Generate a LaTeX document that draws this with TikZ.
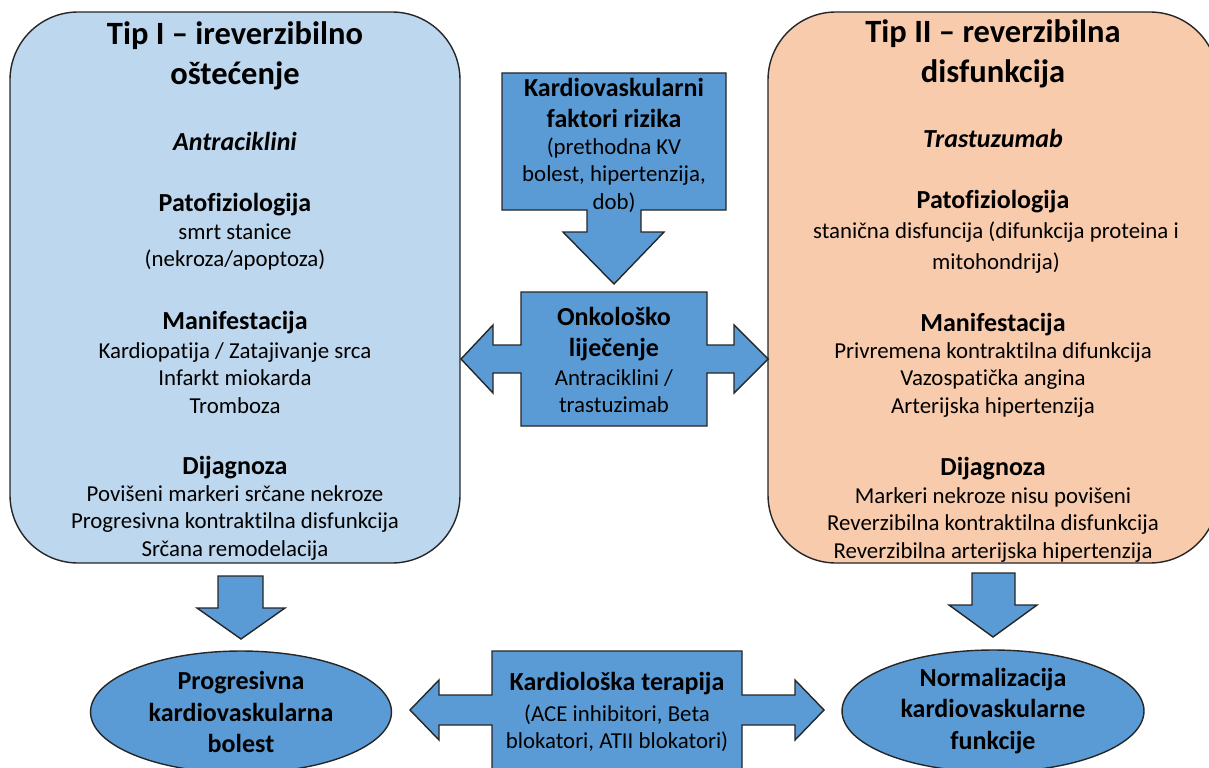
\documentclass[tikz,border=0pt]{standalone}
\usepackage{fontspec}
\setmainfont{Carlito}[Ligatures=CommonOff]
\usetikzlibrary{shapes.geometric}

\definecolor{plava}{HTML}{BDD7EE}
\definecolor{breskva}{HTML}{F8CBAD}
\definecolor{strel}{HTML}{5B9BD5}

\begin{document}
\begin{tikzpicture}[x=0.02cm,y=-0.02cm,line width=0.8pt,
  box/.style={draw=black!85,rounded corners=1.36cm},
  blok/.style={draw=black!85,fill=strel},
  txt/.style={align=center,inner sep=0pt,font=\fontsize{13}{15.6}\selectfont},
  hd/.style={align=center,inner sep=0pt,font=\bfseries\fontsize{14.8}{17.8}\selectfont},
  ttl/.style={align=center,inner sep=0pt,font=\bfseries\fontsize{18.5}{22.8}\selectfont}]

\useasboundingbox (0,0) rectangle (1209,767);
\clip (0,0) rectangle (1209,767);

%type boxes
\draw[box,fill=plava] (10,12) rectangle (460,563);
\draw[box,fill=breskva] (768,12) rectangle (1218,563);

%callouts
\draw[blok] (502,73) -- (726,73) -- (726,210) -- (641,210) -- (641,232) -- (664,232)
  -- (614,284) -- (563,232) -- (587,232) -- (587,210) -- (502,210) -- cycle;
\draw[blok] (521,292) -- (707,292) -- (707,345) -- (734,345) -- (734,325) -- (768,359)
  -- (734,393) -- (734,373) -- (707,373) -- (707,426) -- (521,426) -- (521,373)
  -- (493,373) -- (493,393) -- (461,359) -- (493,325) -- (493,345) -- (521,345) -- cycle;
\draw[blok] (492,651) -- (742,651) -- (742,695) -- (795,695) -- (795,680) -- (824,710)
  -- (795,740) -- (795,725) -- (742,725) -- (742,800) -- (492,800) -- (492,725)
  -- (439,725) -- (439,740) -- (410,710) -- (439,680) -- (439,695) -- (492,695) -- cycle;

%down arrows
\draw[blok] (218,576) -- (263,576) -- (263,608) -- (285,608) -- (241,639) -- (197,608) -- (218,608) -- cycle;
\draw[blok] (972,573) -- (1015,573) -- (1015,605) -- (1037,605) -- (993,637) -- (949,605) -- (972,605) -- cycle;

%outcomes
\node[draw=black!85,fill=strel,ellipse,minimum width=6.02cm,minimum height=2.44cm,hd] at (241,712) (ish1)
  {Progresivna\\ kardiovaskularna\\ bolest};
\node[draw=black!85,fill=strel,ellipse,minimum width=6.04cm,minimum height=2.44cm,hd] at (993,711) (ish2)
  {Normalizacija\\ kardiovaskularne\\ funkcije};

%left box text
\node[ttl] at (235,56) (l1) {Tip I – ireverzibilno\\ oštećenje};
\node[hd,font=\bfseries\itshape\fontsize{14.8}{17.8}\selectfont] at (235,141) (l2) {Antraciklini};
\node[hd] at (235,205) (l3) {Patofiziologija};
\node[txt] at (235,247) (l4) {smrt stanice\\ (nekroza/apoptoza)};
\node[hd] at (235,323) (l5) {Manifestacija};
\node[txt] at (235,378) (l6) {Kardiopatija / Zatajivanje srca\\ Infarkt miokarda\\ Tromboza};
\node[hd] at (235,468) (l7) {Dijagnoza};
\node[txt] at (235,523) (l8) {Povišeni markeri srčane nekroze\\ Progresivna kontraktilna disfunkcija\\ Srčana remodelacija};

%right box text
\node[ttl] at (993,54) (r1) {Tip II – reverzibilna\\ disfunkcija};
\node[hd,font=\bfseries\itshape\fontsize{14.8}{17.8}\selectfont] at (993,138) (r2) {Trastuzumab};
\node[hd] at (993,202) (r3) {Patofiziologija};
\node[txt] at (996,248) (r4) {stanična disfuncija (difunkcija proteina i\\[2pt] mitohondrija)};
\node[hd] at (993,325) (r5) {Manifestacija};
\node[txt] at (993,380) (r6) {Privremena kontraktilna difunkcija\\ Vazospatička angina\\ Arterijska hipertenzija};
\node[hd] at (993,469) (r7) {Dijagnoza};
\node[txt] at (993,525) (r8) {Markeri nekroze nisu povišeni\\ Reverzibilna kontraktilna disfunkcija\\ Reverzibilna arterijska hipertenzija};

%callout text
\node[hd] at (614,103) (k1) {Kardiovaskularni\\ faktori rizika};
\node[txt] at (614,175) (k2) {(prethodna KV\\ bolest, hipertenzija,\\ dob)};
\node[hd] at (614,334) (o1) {Onkološko\\ liječenje};
\node[txt] at (614,391) (o2) {Antraciklini /\\ trastuzimab};
\node[hd] at (617,684) (p1) {Kardiološka terapija};
\node[txt] at (617,728) (p2) {(ACE inhibitori, Beta\\ blokatori, ATII blokatori)};

\end{tikzpicture}
\end{document}
